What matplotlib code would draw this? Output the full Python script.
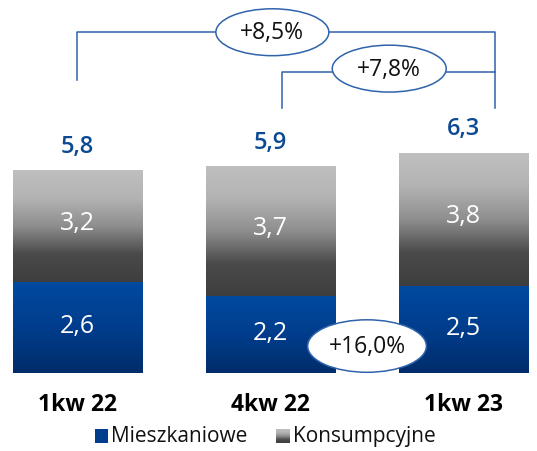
import numpy as np
import matplotlib
matplotlib.use("Agg")
import matplotlib.pyplot as plt
from matplotlib.colors import LinearSegmentedColormap
from matplotlib.patches import Ellipse, Rectangle

# dane
kwartaly = ["1kw 22", "4kw 22", "1kw 23"]
mieszkaniowe = [2.6, 2.2, 2.5]
konsumpcyjne = [3.2, 3.7, 3.8]
sumy = [5.8, 5.9, 6.3]
zmiany = ["+8,5%", "+7,8%", "+16,0%"]

plt.rcParams['font.family'] = ['Open Sans', 'DejaVu Sans']

niebieski = LinearSegmentedColormap.from_list("nieb", ["#002d6a", "#003d8c", "#004aa0"])
szary = LinearSegmentedColormap.from_list("szar", ["#3e3e3e", "#4a4a4a", "#8e8e8e", "#b3b3b3", "#bfbfbf"])
kolor_linii = "#2f63ab"
kolor_sumy = "#0b4a92"

fig = plt.figure(figsize=(5.37, 4.52), dpi=100)
ax = fig.add_axes([0, 0, 1, 1])
ax.set_xlim(-0.40, 2.38)
ax.set_ylim(-2.23, 10.69)
ax.axis("off")

szer = 0.67
grad = np.linspace(0, 1, 256).reshape(-1, 1)


def gradient_bar(x0, y0, w, h, cmap):
    ax.imshow(grad, cmap=cmap, extent=(x0, x0 + w, y0, y0 + h), origin="lower",
              aspect="auto", interpolation="bicubic", zorder=2)


x = np.arange(len(kwartaly))
for i in x:
    gradient_bar(i - szer / 2, 0, szer, mieszkaniowe[i], niebieski)
    gradient_bar(i - szer / 2, mieszkaniowe[i], szer, konsumpcyjne[i], szary)
    ax.text(i, mieszkaniowe[i] / 2 + 0.05, f"{mieszkaniowe[i]:.1f}".replace(".", ","),
            ha="center", va="center", color="white", fontsize=18, zorder=3)
    ax.text(i, mieszkaniowe[i] + konsumpcyjne[i] / 2 + 0.1, f"{konsumpcyjne[i]:.1f}".replace(".", ","),
            ha="center", va="center", color="white", fontsize=18, zorder=3)
    ax.text(i, sumy[i] + 0.7, f"{sumy[i]:.1f}".replace(".", ","),
            ha="center", va="center", color=kolor_sumy, fontsize=17, fontweight="semibold")
    ax.text(i, -0.9, kwartaly[i], ha="center", va="center", color="black",
            fontsize=16.5, fontweight="bold")

# klamry zmian
y1 = 9.74
y2 = 8.6
ax.plot([0, 0, 2.16, 2.16], [8.37, y1, y1, 7.57], color=kolor_linii, lw=1.1)
ax.plot([1.06, 1.06, 2.16], [7.57, y2, y2], color=kolor_linii, lw=1.1)

for (cx, cy, w, h), t in zip([(1.01, y1, 0.585, 1.34), (1.615, y2 + 0.1, 0.59, 1.34),
                              (1.5, 0.77, 0.615, 1.5)], zmiany):
    ax.add_patch(Ellipse((cx, cy), w, h, facecolor="white", edgecolor=kolor_linii, lw=1.1, zorder=4))
    ax.text(cx, cy, t, ha="center", va="center", fontsize=16.5, color="#111111", zorder=5)

# legenda
ly = -1.8
ax.add_patch(Rectangle((0.09, ly - 0.2), 0.068, 0.4, facecolor="#003d8c", zorder=3))
ax.text(0.175, ly, "Mieszkaniowe", ha="left", va="center", fontsize=15, color="#111111")
gradient_bar(1.03, ly - 0.2, 0.068, 0.4, szary)
ax.text(1.115, ly, "Konsumpcyjne", ha="left", va="center", fontsize=15, color="#111111")

fig.savefig("out.png", dpi=100)
